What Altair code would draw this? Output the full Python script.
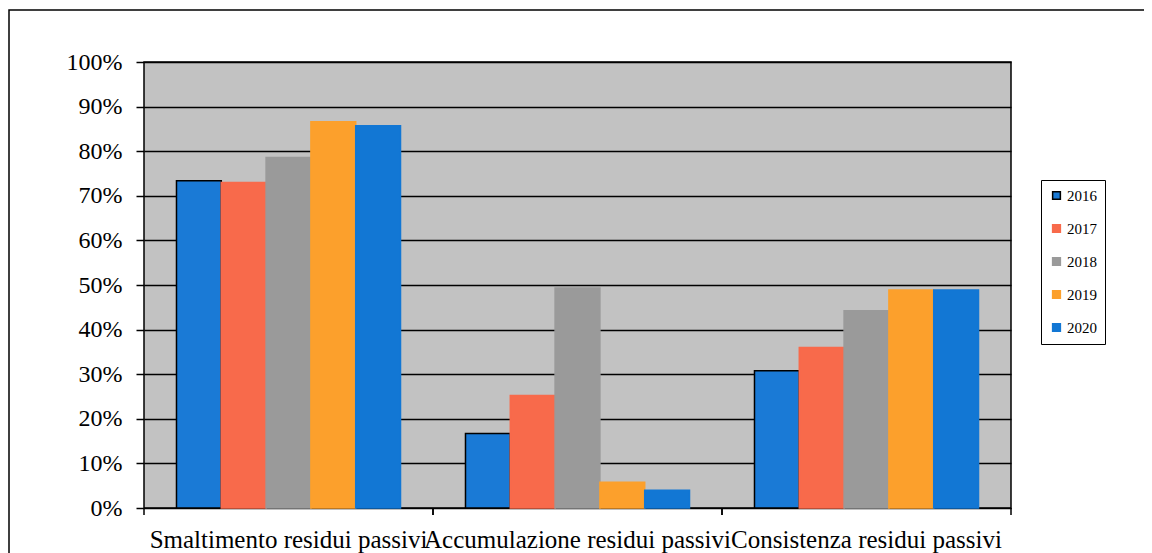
import altair as alt
import pandas as pd

groups = ["Smaltimento residui passivi", "Accumulazione residui passivi", "Consistenza residui passivi"]
years = ["2016", "2017", "2018", "2019", "2020"]
v2016 = [0.734, 0.167, 0.308]
v2017 = [0.730, 0.252, 0.360]
v2018 = [0.786, 0.493, 0.442]
v2019 = [0.866, 0.058, 0.489]
v2020 = [0.857, 0.040, 0.489]
colors = ["#1a7ad6", "#f86a4b", "#9a9a9a", "#fca02c", "#1277d4"]
strokes = ["#000000", "#f86a4b", "#9a9a9a", "#fca02c", "#1277d4"]
y_ticks = [0, 0.1, 0.2, 0.3, 0.4, 0.5, 0.6, 0.7, 0.8, 0.9, 1.0]

rows = []
for yr, vals in zip(years, [v2016, v2017, v2018, v2019, v2020]):
    for g, v in zip(groups, vals):
        rows.append({"group": g, "year": yr, "value": v})
df = pd.DataFrame(rows)
gdf = pd.DataFrame({"group": groups})

FONT = "Liberation Serif"
W, H = 867, 446

xscale = alt.Scale(domain=groups, paddingInner=0, paddingOuter=0)

bars = alt.Chart(df).mark_bar(strokeWidth=1.5).encode(
    x=alt.X("group:N", sort=groups, scale=xscale,
            axis=alt.Axis(title=None, ticks=False, domain=False, labelAngle=0,
                          labelFont=FONT, labelFontSize=25, labelColor="black",
                          labelPadding=19, labelLimit=0, labelOverlap=False)),
    xOffset=alt.XOffset("year:N", sort=years,
                        scale=alt.Scale(domain=years, paddingOuter=0.725, paddingInner=0)),
    y=alt.Y("value:Q", scale=alt.Scale(domain=[0, 1], nice=False),
            axis=alt.Axis(title=None, values=y_ticks, format=".0%", grid=True,
                          gridColor="black", gridWidth=1.5, gridOpacity=1,
                          domain=False, tickColor="black", tickSize=8, tickWidth=1.5,
                          labelFont=FONT, labelFontSize=24, labelColor="black",
                          labelPadding=14)),
    fill=alt.Fill("year:N", sort=years, scale=alt.Scale(domain=years, range=colors),
                  legend=alt.Legend(title=None, orient="none", legendX=897, legendY=118,
                                    strokeColor="black", padding=8, symbolType="square",
                                    symbolSize=60, symbolStrokeWidth=1.5,
                                    labelFont=FONT, labelFontSize=15, labelColor="black",
                                    rowPadding=17, labelOffset=3)),
    stroke=alt.Stroke("year:N", sort=years, scale=alt.Scale(domain=years, range=strokes),
                      legend=None),
)

tick_l = alt.Chart(gdf).mark_rule(color="black", strokeWidth=1.5).encode(
    x=alt.X("group:N", sort=groups, scale=xscale, bandPosition=0),
    y=alt.value(H), y2=alt.value(H + 7),
)
tick_r = alt.Chart(gdf).mark_rule(color="black", strokeWidth=1.5).encode(
    x=alt.X("group:N", sort=groups, scale=xscale, bandPosition=1),
    y=alt.value(H), y2=alt.value(H + 7),
)

frame = alt.Chart(gdf.head(1)).mark_rect(fill="transparent", stroke="black", strokeWidth=1.5).encode(
    x=alt.value(-135), x2=alt.value(1300), y=alt.value(-52), y2=alt.value(700),
)

chart = alt.layer(frame, bars, tick_l, tick_r).properties(
    width=W, height=H,
    background="white",
    autosize=alt.AutoSizeParams(type="none"),
    padding={"left": 136, "top": 54, "right": 133, "bottom": 45},
).configure_view(
    fill="#c2c2c2", stroke="black", strokeWidth=1.5,
)

chart.save("out.html", embed_options={"renderer": "svg", "actions": False})
